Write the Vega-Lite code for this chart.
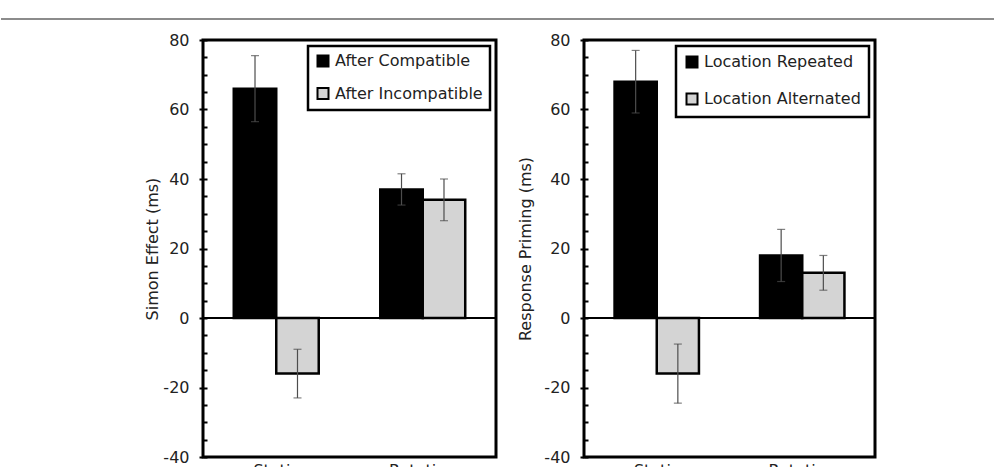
{
  "$schema": "https://vega.github.io/schema/vega-lite/v6.json",
  "background": "white",
  "padding": {"left": 0, "top": 18, "right": 0, "bottom": 0},
  "spacing": 10,
  "datasets": {
    "effects": [
      {"panel": "Simon", "cond": "Static", "group": "After Compatible", "value": 66, "lo": 56.5, "hi": 75.5},
      {"panel": "Simon", "cond": "Static", "group": "After Incompatible", "value": -16, "lo": -23, "hi": -9},
      {"panel": "Simon", "cond": "Rotating", "group": "After Compatible", "value": 37, "lo": 32.5, "hi": 41.5},
      {"panel": "Simon", "cond": "Rotating", "group": "After Incompatible", "value": 34, "lo": 28, "hi": 40},
      {"panel": "Priming", "cond": "Static", "group": "Location Repeated", "value": 68, "lo": 59, "hi": 77},
      {"panel": "Priming", "cond": "Static", "group": "Location Alternated", "value": -16, "lo": -24.5, "hi": -7.5},
      {"panel": "Priming", "cond": "Rotating", "group": "Location Repeated", "value": 18, "lo": 10.5, "hi": 25.5},
      {"panel": "Priming", "cond": "Rotating", "group": "Location Alternated", "value": 13, "lo": 8, "hi": 18}
    ]
  },
  "config": {
    "font": "DejaVu Sans",
    "view": {"stroke": null},
    "axis": {
      "labelFontSize": 16,
      "titleFontSize": 16,
      "titleFontWeight": "normal",
      "labelColor": "#222222",
      "titleColor": "#222222",
      "grid": false
    },
    "legend": {
      "orient": "top-right",
      "offset": 6,
      "strokeColor": "black",
      "strokeWidth": 2.5,
      "fillColor": "white",
      "labelFontSize": 16,
      "labelColor": "#222222",
      "symbolType": "square",
      "symbolSize": 121,
      "symbolStrokeColor": "black",
      "symbolStrokeWidth": 2,
      "labelOffset": 4
    }
  },
  "vconcat": [
    {
      "width": 994,
      "height": 1,
      "data": {"values": [{"edge": 1}]},
      "mark": {"type": "rule", "color": "#8c8c8c", "strokeWidth": 2},
      "encoding": {
        "y": {"field": "edge", "type": "quantitative", "scale": {"domain": [0, 1]}, "axis": null}
      }
    },
    {
      "spacing": 17,
      "resolve": {
        "scale": {"color": "independent", "xOffset": "independent"},
        "legend": {"color": "independent"}
      },
      "hconcat": [
        {
          "width": 125,
          "height": 1,
          "data": {"values": []},
          "mark": "point"
        },
        {
          "width": 293,
          "height": 417,
          "view": {"stroke": "black", "strokeWidth": 3},
          "data": {"name": "effects"},
          "transform": [{"filter": "datum.panel === 'Simon'"}],
          "layer": [
            {
              "mark": {"type": "bar", "stroke": "black", "strokeWidth": 2.5},
              "encoding": {
                "x": {"field": "cond", "type": "nominal", "sort": ["Static", "Rotating"],
                      "scale": {"paddingInner": 0.42, "paddingOuter": 0.21},
                      "axis": {"title": null, "labelAngle": 0, "domain": false, "ticks": false, "labelPadding": 5}},
                "xOffset": {"field": "group", "type": "nominal", "sort": ["After Compatible", "After Incompatible"],
                            "scale": {"paddingInner": 0, "paddingOuter": 0}},
                "y": {"field": "value", "type": "quantitative",
                      "scale": {"domain": [-40, 80], "nice": false, "zero": false},
                      "axis": {"title": "Simon Effect (ms)", "values": [-40, -20, 0, 20, 40, 60, 80],
                               "labelExpr": "replace(datum.label, '\u2212', '-')",
                               "domain": false, "tickSize": 4, "tickWidth": 2, "tickColor": "black",
                               "labelPadding": 10, "titlePadding": 2}},
                "color": {"field": "group", "type": "nominal", "sort": ["After Compatible", "After Incompatible"],
                          "scale": {"range": ["#000000", "#d4d4d4"]},
                          "legend": {"title": null, "padding": 7, "rowPadding": 12.5,
                                     "labelExpr": "datum.label + '\u00a0\u00a0\u00a0\u00a0\u00a0'"}}
              }
            },
            {
              "mark": {"type": "rule", "color": "#4d4d4d", "strokeWidth": 1.2},
              "encoding": {
                "x": {"field": "cond", "type": "nominal", "sort": ["Static", "Rotating"]},
                "xOffset": {"field": "group", "type": "nominal", "sort": ["After Compatible", "After Incompatible"]},
                "y": {"field": "lo", "type": "quantitative", "axis": null},
                "y2": {"field": "hi"}
              }
            },
            {
              "mark": {"type": "tick", "orient": "horizontal", "size": 8, "thickness": 1.2, "color": "#4d4d4d"},
              "encoding": {
                "x": {"field": "cond", "type": "nominal", "sort": ["Static", "Rotating"]},
                "xOffset": {"field": "group", "type": "nominal", "sort": ["After Compatible", "After Incompatible"]},
                "y": {"field": "lo", "type": "quantitative", "axis": null}
              }
            },
            {
              "mark": {"type": "tick", "orient": "horizontal", "size": 8, "thickness": 1.2, "color": "#4d4d4d"},
              "encoding": {
                "x": {"field": "cond", "type": "nominal", "sort": ["Static", "Rotating"]},
                "xOffset": {"field": "group", "type": "nominal", "sort": ["After Compatible", "After Incompatible"]},
                "y": {"field": "hi", "type": "quantitative", "axis": null}
              }
            },
            {
              "mark": {"type": "rule", "color": "black", "strokeWidth": 2},
              "encoding": {
                "y": {"datum": 0, "type": "quantitative",
                      "axis": {"title": null, "labels": false, "domain": false, "orient": "left",
                               "values": [-40, -35, -30, -25, -20, -15, -10, -5, 0, 5, 10, 15, 20, 25, 30, 35, 40, 45, 50, 55, 60, 65, 70, 75, 80],
                               "tickSize": -4, "tickWidth": 2, "tickColor": "black"}}
              }
            }
          ],
          "resolve": {"axis": {"y": "independent"}}
        },
        {
          "width": 291,
          "height": 417,
          "view": {"stroke": "black", "strokeWidth": 3},
          "data": {"name": "effects"},
          "transform": [{"filter": "datum.panel === 'Priming'"}],
          "layer": [
            {
              "mark": {"type": "bar", "stroke": "black", "strokeWidth": 2.5},
              "encoding": {
                "x": {"field": "cond", "type": "nominal", "sort": ["Static", "Rotating"],
                      "scale": {"paddingInner": 0.42, "paddingOuter": 0.21},
                      "axis": {"title": null, "labelAngle": 0, "domain": false, "ticks": false, "labelPadding": 5}},
                "xOffset": {"field": "group", "type": "nominal", "sort": ["Location Repeated", "Location Alternated"],
                            "scale": {"paddingInner": 0, "paddingOuter": 0}},
                "y": {"field": "value", "type": "quantitative",
                      "scale": {"domain": [-40, 80], "nice": false, "zero": false},
                      "axis": {"title": "Response Priming (ms)", "values": [-40, -20, 0, 20, 40, 60, 80],
                               "labelExpr": "replace(datum.label, '\u2212', '-')",
                               "domain": false, "tickSize": 4, "tickWidth": 2, "tickColor": "black",
                               "labelPadding": 10, "titlePadding": 10}},
                "color": {"field": "group", "type": "nominal", "sort": ["Location Repeated", "Location Alternated"],
                          "scale": {"range": ["#000000", "#d4d4d4"]},
                          "legend": {"title": null, "padding": 8, "rowPadding": 17}}
              }
            },
            {
              "mark": {"type": "rule", "color": "#4d4d4d", "strokeWidth": 1.2},
              "encoding": {
                "x": {"field": "cond", "type": "nominal", "sort": ["Static", "Rotating"]},
                "xOffset": {"field": "group", "type": "nominal", "sort": ["Location Repeated", "Location Alternated"]},
                "y": {"field": "lo", "type": "quantitative", "axis": null},
                "y2": {"field": "hi"}
              }
            },
            {
              "mark": {"type": "tick", "orient": "horizontal", "size": 8, "thickness": 1.2, "color": "#4d4d4d"},
              "encoding": {
                "x": {"field": "cond", "type": "nominal", "sort": ["Static", "Rotating"]},
                "xOffset": {"field": "group", "type": "nominal", "sort": ["Location Repeated", "Location Alternated"]},
                "y": {"field": "lo", "type": "quantitative", "axis": null}
              }
            },
            {
              "mark": {"type": "tick", "orient": "horizontal", "size": 8, "thickness": 1.2, "color": "#4d4d4d"},
              "encoding": {
                "x": {"field": "cond", "type": "nominal", "sort": ["Static", "Rotating"]},
                "xOffset": {"field": "group", "type": "nominal", "sort": ["Location Repeated", "Location Alternated"]},
                "y": {"field": "hi", "type": "quantitative", "axis": null}
              }
            },
            {
              "mark": {"type": "rule", "color": "black", "strokeWidth": 2},
              "encoding": {
                "y": {"datum": 0, "type": "quantitative",
                      "axis": {"title": null, "labels": false, "domain": false, "orient": "left",
                               "values": [-40, -35, -30, -25, -20, -15, -10, -5, 0, 5, 10, 15, 20, 25, 30, 35, 40, 45, 50, 55, 60, 65, 70, 75, 80],
                               "tickSize": -4, "tickWidth": 2, "tickColor": "black"}}
              }
            }
          ],
          "resolve": {"axis": {"y": "independent"}}
        }
      ]
    }
  ]
}
